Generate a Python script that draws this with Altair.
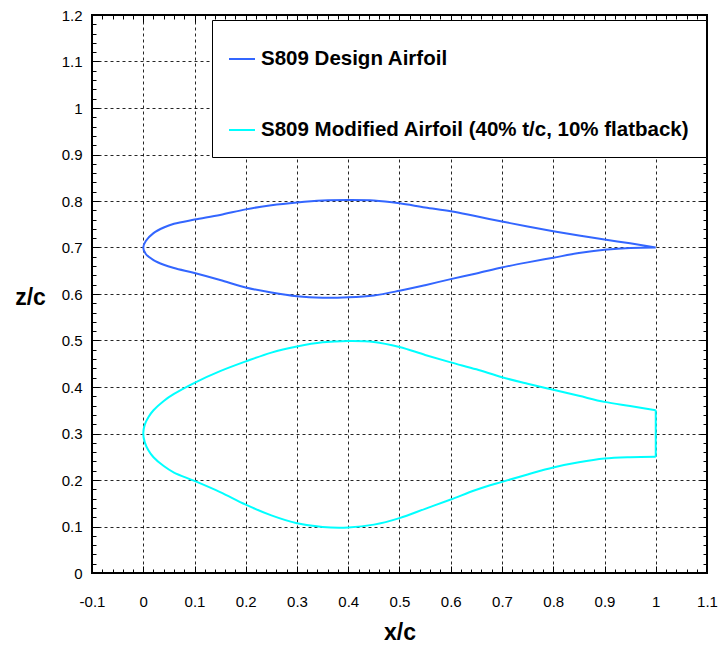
import altair as alt
import pandas as pd

FONT = "Liberation Sans"

names = ["S809 Design Airfoil", "S809 Modified Airfoil (40% t/c, 10% flatback)"]
colors = ["#3366ff", "#00ffff"]

# S809 design airfoil (shifted to z/c = 0.7)
design_x = [0, 0.005, 0.02, 0.04, 0.06, 0.1, 0.15, 0.2, 0.25, 0.3, 0.35, 0.4,
            0.45, 0.5, 0.55, 0.6, 0.65, 0.7, 0.75, 0.8, 0.85, 0.9, 0.95, 1.0]
design_upper_z = [0.700, 0.714, 0.731, 0.743, 0.751, 0.760, 0.770, 0.782, 0.791,
                  0.797, 0.801, 0.802, 0.801, 0.795, 0.786, 0.778, 0.767, 0.756,
                  0.745, 0.735, 0.726, 0.717, 0.709, 0.700]
design_lower_z = [0.700, 0.686, 0.673, 0.663, 0.656, 0.645, 0.630, 0.614, 0.603,
                  0.595, 0.592, 0.593, 0.597, 0.607, 0.619, 0.632, 0.644, 0.657,
                  0.668, 0.678, 0.688, 0.695, 0.699, 0.700]

# S809 modified airfoil (shifted to z/c = 0.3)
mod_x = [0, 0.003, 0.01, 0.02, 0.04, 0.06, 0.1, 0.15, 0.2, 0.25, 0.3, 0.35, 0.4,
         0.45, 0.5, 0.55, 0.6, 0.65, 0.7, 0.75, 0.8, 0.85, 0.9, 0.95, 1.0]
mod_upper_z = [0.300, 0.319, 0.335, 0.350, 0.370, 0.385, 0.409, 0.434, 0.455,
               0.474, 0.487, 0.496, 0.499, 0.497, 0.486, 0.469, 0.453, 0.438,
               0.421, 0.407, 0.394, 0.381, 0.368, 0.359, 0.350]
mod_lower_z = [0.300, 0.281, 0.264, 0.249, 0.230, 0.216, 0.198, 0.174, 0.147,
               0.124, 0.107, 0.099, 0.098, 0.104, 0.118, 0.138, 0.158, 0.179,
               0.196, 0.212, 0.227, 0.238, 0.246, 0.249, 0.250]

x_major = [-0.1, 0, 0.1, 0.2, 0.3, 0.4, 0.5, 0.6, 0.7, 0.8, 0.9, 1, 1.1]
y_major = [0, 0.1, 0.2, 0.3, 0.4, 0.5, 0.6, 0.7, 0.8, 0.9, 1, 1.1, 1.2]
x_minor = [round(-0.1 + 0.02 * i, 2) for i in range(61)]
y_minor = [round(0.02 * i, 2) for i in range(61)]

rows = []


def add_foil(name, xs, up, lo, flatback):
    seq = 0
    for xv, zv in zip(reversed(xs), reversed(up)):
        rows.append({"airfoil": name, "part": "surface", "x": xv, "z": zv, "seq": seq})
        seq += 1
    for xv, zv in zip(xs[1:], lo[1:]):
        rows.append({"airfoil": name, "part": "surface", "x": xv, "z": zv, "seq": seq})
        seq += 1
    if flatback:
        rows.append({"airfoil": name, "part": "te", "x": xs[-1], "z": lo[-1], "seq": 0})
        rows.append({"airfoil": name, "part": "te", "x": xs[-1], "z": up[-1], "seq": 1})


add_foil(names[0], design_x, design_upper_z, design_lower_z, False)
add_foil(names[1], mod_x, mod_upper_z, mod_lower_z, True)
df = pd.DataFrame(rows)

xscale = alt.Scale(domain=[-0.1, 1.1], nice=False, zero=False)
yscale = alt.Scale(domain=[0, 1.2], nice=False, zero=False)


def tick_axis(orient, values, size, labels=False, pad=0):
    kw = dict(orient=orient, values=values, offset=-size, tickSize=size,
              tickColor="black", tickWidth=1, domain=False, grid=False,
              labels=labels, title=None)
    if labels:
        kw.update(labelExpr="'' + datum.value", labelFont=FONT, labelFontSize=15,
                  labelColor="black", labelPadding=pad, labelFlush=False,
                  labelOverlap=False)
    return alt.Axis(**kw)


x_grid_axis = alt.Axis(orient="bottom", values=x_major, grid=True, gridColor="black",
                       gridDash=[3, 3], gridWidth=1, gridOpacity=0.85, ticks=False,
                       labels=False, domain=False, title="x/c", titleX=307.5,
                       titleY=59, titleFont=FONT, titleFontSize=23,
                       titleFontWeight="bold", titleColor="black",
                       titleAlign="center", titleBaseline="middle")
y_grid_axis = alt.Axis(orient="left", values=y_major, grid=True, gridColor="black",
                       gridDash=[3, 3], gridWidth=1, gridOpacity=0.85, ticks=False,
                       labels=False, domain=False, title="z/c", titleX=-62,
                       titleY=282, titleAngle=0, titleFont=FONT, titleFontSize=23,
                       titleFontWeight="bold", titleColor="black",
                       titleAlign="center", titleBaseline="middle")

axis_pairs = [
    (x_grid_axis, y_grid_axis),
    (tick_axis("bottom", x_major, 7, labels=True, pad=21),
     tick_axis("left", y_major, 7, labels=True, pad=10)),
    (tick_axis("bottom", x_minor, 4), tick_axis("left", y_minor, 4)),
    (tick_axis("top", x_major, 7), tick_axis("right", y_major, 7)),
    (tick_axis("top", x_minor, 4), tick_axis("right", y_minor, 4)),
]

base = alt.Chart(df)

legend = alt.Legend(orient="none", legendX=120, legendY=5, title=" ",
                    titleFontSize=4, titlePadding=5, padding=16,
                    strokeColor="black", fillColor="white", symbolType="stroke",
                    symbolSize=676, symbolStrokeWidth=2, labelFont=FONT,
                    labelFontSize=20.5, labelFontWeight="bold", labelColor="black",
                    labelOffset=5, rowPadding=46, labelLimit=1000,
                    direction="vertical")

layers = []
for i, (ax, ay) in enumerate(axis_pairs):
    if i == 0:
        layer = base.mark_line(strokeWidth=2, interpolate="catmull-rom").encode(
            x=alt.X("x:Q", scale=xscale, axis=ax),
            y=alt.Y("z:Q", scale=yscale, axis=ay),
            color=alt.Color("airfoil:N", scale=alt.Scale(domain=names, range=colors),
                            legend=legend),
            detail="part:N",
            order="seq:Q",
        )
    else:
        layer = base.mark_line(opacity=0).encode(
            x=alt.X("x:Q", scale=xscale, axis=ax),
            y=alt.Y("z:Q", scale=yscale, axis=ay),
            detail="airfoil:N",
            order="seq:Q",
        )
    layers.append(layer)

chart = alt.layer(*layers).resolve_axis(x="independent", y="independent").properties(
    width=615, height=558,
    autosize=alt.AutoSizeParams(type="none"),
    padding={"left": 92, "top": 15, "right": 13, "bottom": 76},
    background="white",
).configure_view(stroke="black", strokeWidth=2)

chart.save("out.html", embed_options={"renderer": "svg", "actions": False})
